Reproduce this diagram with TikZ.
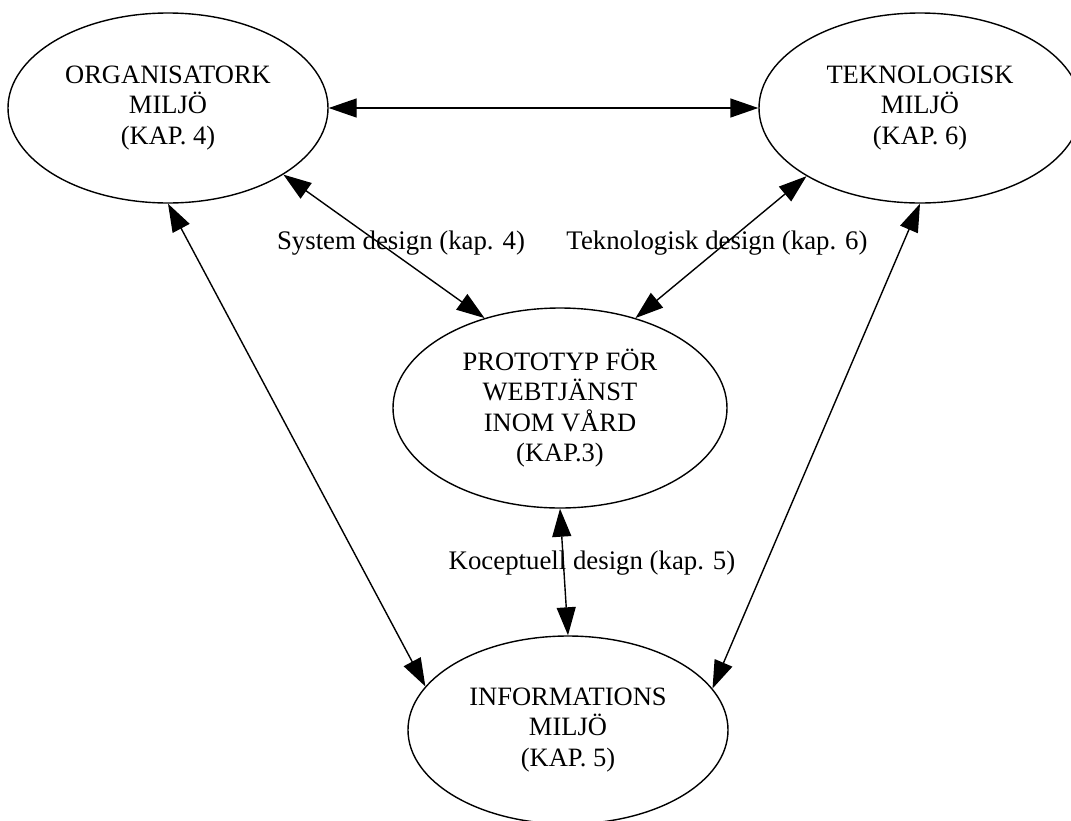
\documentclass[tikz,border=0pt]{standalone}
\usepackage{fontspec}
\setmainfont{Liberation Serif}
\usetikzlibrary{shapes.geometric,arrows.meta}
\begin{document}
\begin{tikzpicture}[x=1pt,y=-1pt,
  env/.style={ellipse,draw,line width=1.4pt,inner sep=0pt,align=center,
    font=\fontsize{26.5}{30.5}\selectfont},
  link/.style={line width=1.4pt,
    {Triangle[length=28pt,width=19pt]}-{Triangle[length=28pt,width=19pt]}},
  lbl/.style={font=\fontsize{26.8}{30.5}\selectfont,inner sep=0pt}]
\useasboundingbox (0,0) rectangle (1071,820);

% the four environments
\node[env,minimum width=320pt,minimum height=190pt] (org) at (168,108)
  {ORGANISATORK\\MILJÖ\\(KAP. 4)};
\node[env,minimum width=322pt,minimum height=190pt] (tek) at (920,108)
  {TEKNOLOGISK\\MILJÖ\\(KAP. 6)};
\node[env,minimum width=334pt,minimum height=200pt] (proto) at (560,408)
  {PROTOTYP FÖR\\WEBTJÄNST\\INOM VÅRD\\(KAP.3)};
\node[env,minimum width=320pt,minimum height=188pt] (info) at (568,730)
  {INFORMATIONS\\MILJÖ\\(KAP. 5)};

% design labels
\node[lbl] (sys) at (401,243) {System design (kap. 4)};
\node[lbl] (tdes) at (717,243) {Teknologisk design (kap. 6)};
\node[lbl] (kdes) at (592,563) {Koceptuell design (kap. 5)};

% two-way links
\draw[link] (org.0) -- (tek.180);
\draw[link] (org.-30.2) -- (proto.130.2);
\draw[link] (tek.211) -- (proto.50.5);
\draw[link] (org.-90) -- (info.163.8);
\draw[link] (tek.-90) -- (info.16.3);
\draw[link] (proto.-90) -- (info.90);
\end{tikzpicture}
\end{document}
